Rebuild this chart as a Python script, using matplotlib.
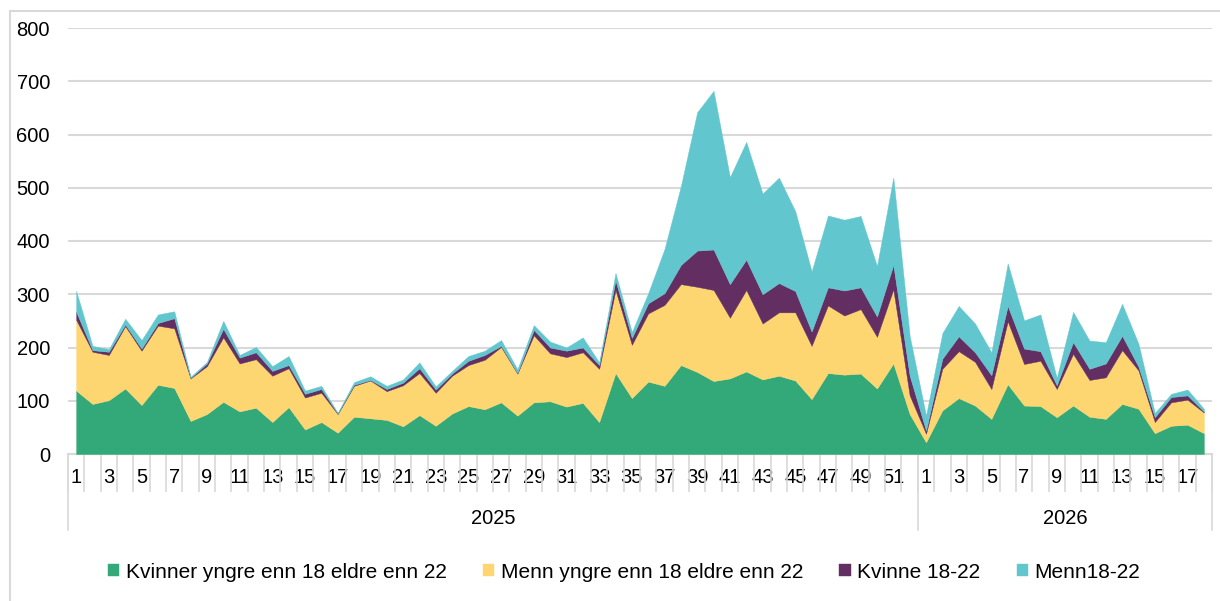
import numpy as np
import matplotlib.pyplot as plt
from matplotlib.lines import Line2D

# --- Data (weekly counts, stacked) ---

years = ["2025", "2026"]
weeks_2025 = list(range(1, 53))
weeks_2026 = list(range(1, 19))

kvinner_utenfor = [119, 94, 101, 123, 92, 130, 124, 62, 75, 98, 80, 87, 60, 88, 46, 60, 40, 70,
                   67, 64, 52, 73, 53, 76, 90, 84, 97, 72, 97, 99, 89, 96, 60, 152, 105, 136,
                   128, 167, 154, 137, 142, 155, 140, 147, 138, 103, 152, 149, 151, 123, 170, 75,
                   22, 82, 105, 91, 66, 131, 91, 90, 69, 91, 70, 66, 94, 85, 39, 53, 55, 39]
menn_utenfor = [133, 98, 85, 117, 102, 111, 112, 80, 90, 121, 90, 91, 87, 73, 60, 55, 35, 58,
                71, 54, 77, 79, 62, 71, 77, 93, 104, 79, 126, 90, 93, 95, 100, 156, 100, 128,
                152, 152, 160, 171, 114, 153, 105, 119, 128, 100, 127, 111, 121, 97, 139, 35,
                16, 78, 88, 82, 56, 118, 78, 85, 53, 97, 69, 78, 101, 72, 21, 44, 47, 39]
kvinne_18_22 = [15, 3, 6, 3, 4, 5, 19, 1, 5, 16, 11, 13, 9, 6, 7, 7, 1, 2,
                1, 4, 5, 9, 6, 4, 8, 9, 2, 1, 10, 11, 12, 9, 7, 18, 13, 19,
                22, 36, 68, 76, 63, 57, 55, 55, 40, 27, 34, 47, 41, 38, 46, 37,
                6, 19, 28, 18, 26, 29, 29, 18, 7, 22, 21, 26, 27, 7, 9, 10, 8, 2]
menn_18_22 = [39, 8, 5, 11, 16, 16, 13, 2, 3, 15, 5, 10, 9, 17, 6, 6, 1, 5,
              7, 6, 6, 11, 6, 5, 9, 8, 11, 7, 9, 11, 6, 19, 5, 14, 11, 19,
              83, 148, 260, 298, 201, 221, 189, 198, 150, 113, 135, 133, 134, 95, 164, 75,
              28, 48, 57, 54, 43, 80, 53, 69, 14, 57, 53, 40, 60, 43, 8, 6, 11, 5]

labels = ["Kvinner yngre enn 18 eldre enn 22", "Menn yngre enn 18 eldre enn 22",
          "Kvinne 18-22", "Menn18-22"]
colors = ["#33A878", "#FDD672", "#632F63", "#61C6CD"]
grid_col = "#D9D9D9"
fs = 14.5

plt.rcParams['font.family'] = ['Liberation Sans', 'DejaVu Sans']

# --- Plot ---

fig = plt.figure(figsize=(12.2, 6.01), dpi=100)
ax = fig.add_axes([68 / 1220, 1 - 454 / 601, (1212 - 68) / 1220, (454 - 28) / 601])

n = len(weeks_2025) + len(weeks_2026)
x = np.arange(n)
series = [kvinner_utenfor, menn_utenfor, kvinne_18_22, menn_18_22]
polys = ax.stackplot(x, *series, colors=colors, labels=labels, zorder=3)
for p, c in zip(polys, colors):
    p.set_edgecolor(c)
    p.set_linewidth(0.3)

ax.set_xlim(-0.5, n - 0.5)
ax.set_ylim(0, 800)
ax.set_yticks(range(0, 801, 100))
ax.grid(axis='y', color=grid_col, linewidth=1.5, zorder=0)
ax.set_axisbelow(True)
for s in ['left', 'right', 'top']:
    ax.spines[s].set_visible(False)
ax.spines['bottom'].set_color(grid_col)
ax.spines['bottom'].set_linewidth(1.5)
ax.tick_params(axis='y', length=0, pad=13, labelsize=fs)

# week labels (odd weeks) and category separators
week_labels = [str(w) for w in weeks_2025] + [str(w) for w in weeks_2026]
major = [i for i in range(n) if int(week_labels[i]) % 2 == 1]
ax.set_xticks(major)
ax.set_xticklabels([week_labels[i] for i in major])
ax.set_xticks(np.arange(n + 1) - 0.5, minor=True)
ax.tick_params(axis='x', which='major', length=0, pad=10, labelsize=fs)
ax.tick_params(axis='x', which='minor', length=27.4, width=1.2, color=grid_col)

# year grouping
bounds = [0, len(weeks_2025), n]
trans = ax.get_xaxis_transform()
for b in bounds:
    ax.add_line(Line2D([b - 0.5, b - 0.5], [0, -76 / 426], transform=trans,
                       color=grid_col, linewidth=1.2, clip_on=False))
for k, yr in enumerate(years):
    mid = (bounds[k] + bounds[k + 1] - 1) / 2
    ax.text(mid, -64 / 426, yr, transform=trans, ha='center', va='center', fontsize=fs)

# outer chart border
fig.add_artist(Line2D([10 / 1220, 10 / 1220], [0, 1 - 11 / 601], transform=fig.transFigure,
                      color=grid_col, linewidth=1.5))
fig.add_artist(Line2D([10 / 1220, 1], [1 - 11 / 601, 1 - 11 / 601], transform=fig.transFigure,
                      color=grid_col, linewidth=1.5))

fig.legend(loc='center', bbox_to_anchor=(624 / 1220, 1 - 572 / 601), ncol=4, frameon=False,
           fontsize=15, handlelength=0.55, handleheight=0.55, handletextpad=0.3,
           columnspacing=1.75)

fig.savefig("out.png", dpi=100)
